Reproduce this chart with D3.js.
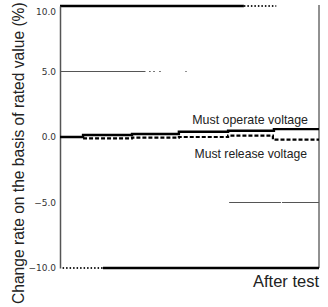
<!DOCTYPE html>
<html><head><meta charset="utf-8">
<script src="https://cdn.jsdelivr.net/npm/d3@7"></script>
<style>body{margin:0;background:#fff;}svg{display:block;font-family:"Liberation Sans",Arial,sans-serif;}</style>
</head><body><svg id="c" width="328" height="307"></svg>
<script>
// y-axis ticks
const yTicks = [10, 5, 0, -5, -10];
const yTickLabels = ["10.0", "5.0", "0.0", "\u22125.0", "\u221210.0"];
// x positions are % of test duration
const operateX = [0, 8.9, 27.8, 45.9, 64.9, 82.6, 100];
const operateY = [0, 0.15, 0.23, 0.4, 0.48, 0.6, 0.6];
const releaseX = [8.9, 27.8, 45.9, 64.9, 82.2, 100];
const releaseY = [-0.1, -0.05, 0.0, 0.1, -0.2, -0.2];
// limit segments: [value, xStart, xEnd, kind]
const limitValues = [10, 10, -10, -10, 5, 5, 5, 5, 5, -5, -5];
const limitStart  = [0, 71, 1, 16.6, 0, 34.4, 36.0, 38.3, 48.4, 65.3, 85.7];
const limitEnd    = [71, 83.5, 16.6, 100, 33, 35.0, 36.6, 38.9, 48.9, 85.3, 100];
const limitKind   = ["thick", "dot", "dot", "thick", "gray", "gray", "gray", "gray", "gray", "gray", "gray"];
const seriesNames = ["Must operate voltage", "Must release voltage"];
const yTitle = "Change rate on the basis of rated value (%)";
const xTitle = "After test";

const svg = d3.select("#c");
const L = 60, R = 319, T = 6, B = 268;
const x = d3.scaleLinear().domain([0, 100]).range([L, R]);
const y = d3.scaleLinear().domain([-10, 10]).range([B, T]);

// right border
svg.append("line").attr("x1", R).attr("x2", R).attr("y1", T - 1).attr("y2", B)
  .attr("stroke", "#222").attr("stroke-width", 1);

// limit lines
const styles = {
  thick: {c: "#000", w: 2.6, d: null},
  dot: {c: "#222", w: 2, d: "1.5,2"},
  gray: {c: "#555", w: 1.2, d: null}
};
limitValues.forEach((v, i) => {
  const s = styles[limitKind[i]];
  svg.append("line").attr("x1", x(limitStart[i])).attr("x2", x(limitEnd[i]))
    .attr("y1", y(v)).attr("y2", y(v))
    .attr("stroke", s.c).attr("stroke-width", s.w)
    .attr("stroke-dasharray", s.d);
});

// left axis
const ax = svg.append("g").attr("transform", `translate(${L},0)`)
  .call(d3.axisLeft(y).tickValues(yTicks).tickSize(0).tickPadding(4)
    .tickFormat((d, i) => yTickLabels[i]));
ax.select(".domain").attr("stroke", "#555").attr("stroke-width", 1.5);
ax.selectAll("text").attr("font-size", 9).attr("fill", "#333")
  .attr("font-family", "DejaVu Sans")
  .attr("transform", d => d === 10 ? "translate(0,6)" : null);

// series
const line = d3.line().curve(d3.curveStepAfter).x(d => x(d[0])).y(d => y(d[1]));
svg.append("path").datum(operateX.map((v, i) => [v, operateY[i]]))
  .attr("d", line).attr("fill", "none").attr("stroke", "#000").attr("stroke-width", 2.4);
svg.append("path").datum(releaseX.map((v, i) => [v, releaseY[i]]))
  .attr("d", line).attr("fill", "none").attr("stroke", "#000").attr("stroke-width", 2.2)
  .attr("stroke-dasharray", "4,2");

// labels
svg.append("text").attr("x", 308).attr("y", 124).attr("text-anchor", "end")
  .attr("font-size", 12.4).attr("fill", "#222").text(seriesNames[0]);
svg.append("text").attr("x", 307).attr("y", 158).attr("text-anchor", "end")
  .attr("font-size", 12.2).attr("fill", "#222").text(seriesNames[1]);
svg.append("text").attr("x", 319).attr("y", 287).attr("text-anchor", "end")
  .attr("font-size", 16.5).attr("fill", "#222").text(xTitle);
svg.append("text").attr("transform", "translate(24,304) rotate(-90)")
  .attr("font-size", 15.6).attr("fill", "#222").text(yTitle);
</script></body></html>
